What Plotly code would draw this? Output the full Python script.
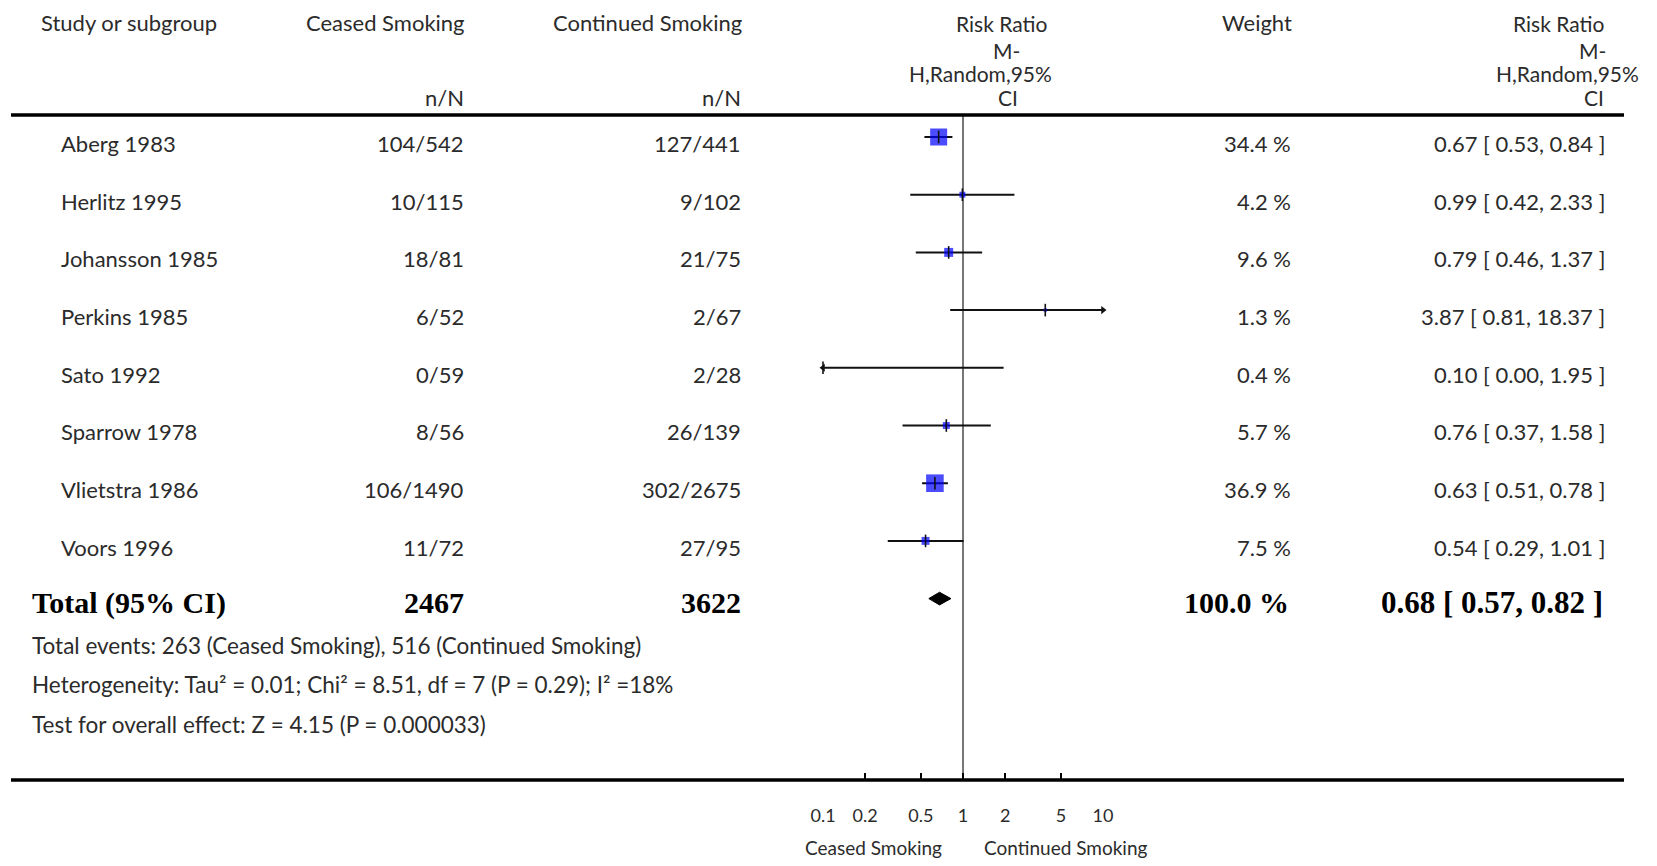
import math
import plotly.graph_objects as go

# ---------------- data ----------------
studies = ["Aberg 1983", "Herlitz 1995", "Johansson 1985", "Perkins 1985",
           "Sato 1992", "Sparrow 1978", "Vlietstra 1986", "Voors 1996"]
ceased_n = [104, 10, 18, 6, 0, 8, 106, 11]
ceased_N = [542, 115, 81, 52, 59, 56, 1490, 72]
cont_n = [127, 9, 21, 2, 2, 26, 302, 27]
cont_N = [441, 102, 75, 67, 28, 139, 2675, 95]
weights = [34.4, 4.2, 9.6, 1.3, 0.4, 5.7, 36.9, 7.5]
rr = [0.67, 0.99, 0.79, 3.87, 0.10, 0.76, 0.63, 0.54]
rr_lo = [0.53, 0.42, 0.46, 0.81, 0.00, 0.37, 0.51, 0.29]
rr_hi = [0.84, 2.33, 1.37, 18.37, 1.95, 1.58, 0.78, 1.01]

total_ceased = 2467
total_cont = 3622
total_weight = 100.0
total_rr, total_lo, total_hi = 0.68, 0.57, 0.82

footer_lines = [
    "Total events: 263 (Ceased Smoking), 516 (Continued Smoking)",
    "Heterogeneity: Tau² = 0.01; Chi² = 8.51, df = 7 (P = 0.29); I² =18%",
    "Test for overall effect: Z = 4.15 (P = 0.000033)",
]
tick_vals = [0.1, 0.2, 0.5, 1, 2, 5, 10]
tick_text = ["0.1", "0.2", "0.5", "1", "2", "5", "10"]
axis_min, axis_max = 0.1, 10
left_label = "Ceased Smoking"
right_label = "Continued Smoking"

# ---------------- layout helpers ----------------
PAGE_OFF = 8                      # default body margin of the page
W, H = 1657 - 2 * PAGE_OFF, 866 - 2 * PAGE_OFF
TEXT = "#2b2b2b"
SANS = "Lato, 'Open Sans', sans-serif"
SERIF = "'Liberation Serif', 'DejaVu Serif', serif"
ROW0_PX, ROW_STEP_PX = 137.0, 57.7
TOP_LINE_PX, AXIS_PX = 115.0, 780.0
X_LEFT_PX, X_RIGHT_PX = 823.0, 1103.0   # pixel spots of axis_min / axis_max
EPS = 0.004                              # tiny range pad so edge ticks are drawn


def px(x):
    return (x - PAGE_OFF) / W


def py(y):
    return 1 - (y - PAGE_OFF) / H


n = len(studies)
rows = list(range(n))
total_row = n

fig = go.Figure()

# CI lines (clipped to axis range)
cx, cy = [], []
for i in rows:
    cx += [max(rr_lo[i], axis_min), min(rr_hi[i], axis_max), None]
    cy += [i, i, None]
fig.add_trace(go.Scatter(x=cx, y=cy, mode="lines",
                         line=dict(color="#111111", width=2),
                         hoverinfo="skip", showlegend=False))

# weight squares
fig.add_trace(go.Scatter(
    x=rr, y=rows, mode="markers",
    marker=dict(symbol="square", color="#0000ff",
                size=[2.9 * math.sqrt(w) for w in weights],
                line=dict(width=0)),
    cliponaxis=False, showlegend=False))

# point estimate ticks
fig.add_trace(go.Scatter(
    x=rr, y=rows, mode="markers",
    marker=dict(symbol="line-ns", size=9,
                line=dict(color="#111111", width=1.6)),
    cliponaxis=False, showlegend=False))

# arrows for clipped intervals
ax_r = [axis_max for i in rows if rr_hi[i] > axis_max]
ay_r = [i for i in rows if rr_hi[i] > axis_max]
ax_l = [axis_min for i in rows if rr_lo[i] < axis_min]
ay_l = [i for i in rows if rr_lo[i] < axis_min]
fig.add_trace(go.Scatter(x=ax_r, y=ay_r, mode="markers",
                         marker=dict(symbol="triangle-right", size=7, color="#111111"),
                         cliponaxis=False, showlegend=False))
fig.add_trace(go.Scatter(x=ax_l, y=ay_l, mode="markers",
                         marker=dict(symbol="triangle-left", size=7, color="#111111"),
                         cliponaxis=False, showlegend=False))

# total diamond
dh = 0.11
fig.add_trace(go.Scatter(
    x=[total_lo, total_rr, total_hi, total_rr, total_lo],
    y=[total_row, total_row - dh, total_row, total_row + dh, total_row],
    mode="lines", fill="toself", fillcolor="#000000",
    line=dict(color="#000000", width=1), showlegend=False))

annotations = []


def ann(text, x, y, xanchor="left", yref="paper", size=22, family=SANS,
        color=TEXT, bold=False):
    if bold:
        text = "<b>" + text + "</b>"
    annotations.append(dict(text=text, x=x, y=y, xref="paper", yref=yref,
                            xanchor=xanchor, yanchor="middle", showarrow=False,
                            font=dict(family=family, size=size, color=color)))


# headers
ann("Study or subgroup", px(39), py(22))
ann("Ceased Smoking", px(467), py(22), "right")
ann("Continued Smoking", px(744), py(22), "right")
ann("n/N", px(466), py(97), "right")
ann("n/N", px(743), py(97), "right")
ann("Risk Ratio", px(1001), py(23), "center", size=21)
ann("M-", px(1007), py(50), "center", size=21)
ann("H,Random,95%", px(980), py(74), "center", size=21)
ann("CI", px(1008), py(97), "center", size=21)
ann("Weight", px(1257), py(22), "center")
ann("Risk Ratio", px(1606), py(23), "right", size=21)
ann("M-", px(1608), py(50), "right", size=21)
ann("H,Random,95%", px(1641), py(74), "right", size=21)
ann("CI", px(1606), py(97), "right", size=21)

# study rows
toff = 0.11
for i in rows:
    yv = i + toff
    ann(studies[i], px(59), yv, yref="y")
    ann(f"{ceased_n[i]}/{ceased_N[i]}", px(466), yv, "right", yref="y")
    ann(f"{cont_n[i]}/{cont_N[i]}", px(743), yv, "right", yref="y")
    ann(f"{weights[i]:.1f} %", px(1293), yv, "right", yref="y")
    ann(f"{rr[i]:.2f} [ {rr_lo[i]:.2f}, {rr_hi[i]:.2f} ]", px(1607), yv, "right", yref="y")

# total row
yt = total_row + 0.07
TS = 30
ann("Total (95% CI)", px(30), yt, yref="y", family=SERIF, size=TS, color="#000", bold=True)
ann(f"{total_ceased}", px(466), yt, "right", yref="y", family=SERIF, size=TS, color="#000", bold=True)
ann(f"{total_cont}", px(743), yt, "right", yref="y", family=SERIF, size=TS, color="#000", bold=True)
ann(f"{total_weight:.1f} %", px(1291), yt, "right", yref="y", family=SERIF, size=TS, color="#000", bold=True)
ann(f"{total_rr:.2f} [ {total_lo:.2f}, {total_hi:.2f} ]", px(1605), yt, "right", yref="y",
    family=SERIF, size=31, color="#000", bold=True)

# footer
for k, line in enumerate(footer_lines):
    ann(line, px(30), py(645 + 39.5 * k), size=22.5)

# bottom labels
ann(left_label, px(873), py(847), "center", size=19)
ann(right_label, px(1065), py(847), "center", size=19)

shapes = [
    dict(type="line", xref="paper", yref="paper", x0=px(11), x1=px(1624),
         y0=py(TOP_LINE_PX), y1=py(TOP_LINE_PX), line=dict(color="#000", width=3.5)),
    dict(type="line", xref="paper", yref="paper", x0=px(11), x1=px(1624),
         y0=py(AXIS_PX), y1=py(AXIS_PX), line=dict(color="#000", width=3.5)),
    dict(type="line", xref="x", yref="y domain", x0=1, x1=1, y0=0, y1=1,
         line=dict(color="#555555", width=1.6), layer="below"),
]

y_top = (TOP_LINE_PX - ROW0_PX) / ROW_STEP_PX
y_bot = (AXIS_PX - ROW0_PX) / ROW_STEP_PX

# x range padded by EPS decades; domain widened by the matching pixels
lmin, lmax = math.log10(axis_min), math.log10(axis_max)
px_per_dec = (X_RIGHT_PX - X_LEFT_PX) / (lmax - lmin)
pad_px = EPS * px_per_dec

fig.update_layout(
    template="none",
    width=W, height=H,
    margin=dict(l=0, r=0, t=0, b=0, pad=0, autoexpand=False),
    paper_bgcolor="white", plot_bgcolor="white",
    showlegend=False,
    annotations=annotations,
    shapes=shapes,
    xaxis=dict(type="log", range=[lmin - EPS, lmax + EPS],
               domain=[px(X_LEFT_PX - pad_px), px(X_RIGHT_PX + pad_px)],
               automargin=False,
               showgrid=False, zeroline=False, showline=False,
               ticks="inside", ticklen=7, tickwidth=1.6, tickcolor="#000",
               tickvals=tick_vals, ticktext=tick_text,
               tickfont=dict(family=SANS, size=18, color=TEXT),
               ticklabelstandoff=23, fixedrange=True),
    yaxis=dict(range=[y_bot, y_top], domain=[py(AXIS_PX), py(TOP_LINE_PX)],
               automargin=False, visible=False, fixedrange=True),
)

fig.write_html("out.html")
